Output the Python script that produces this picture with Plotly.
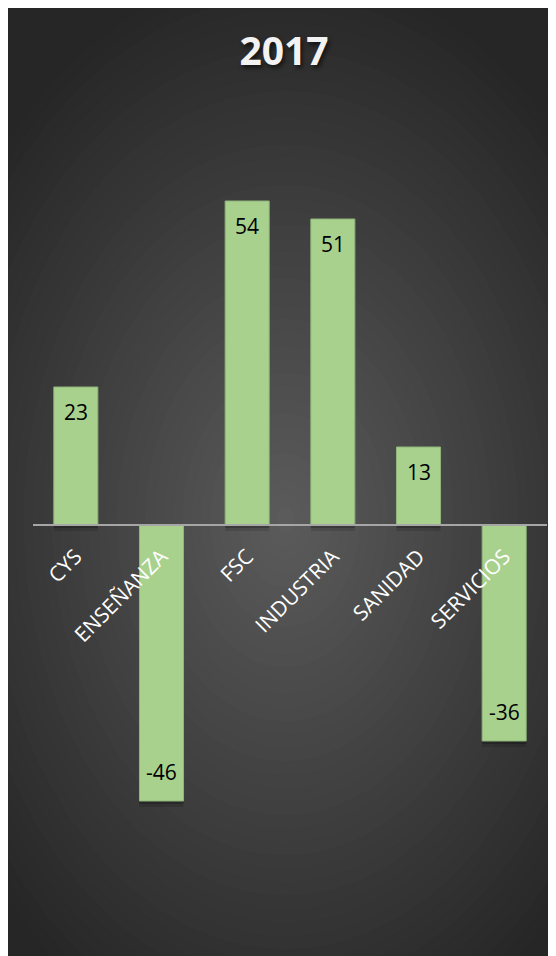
import plotly.graph_objects as go

# ---- data ----
categories = ["CYS", "ENSEÑANZA", "FSC", "INDUSTRIA", "SANIDAD", "SERVICIOS"]
values = [23, -46, 54, 51, 13, -36]
title_text = "2017"

# ---- layout geometry (figure pixels) ----
W, H = 548, 948
L, R, T, B = 25, 9, 97, 71
y_range = [-60, 70]
plot_w = W - L - R
plot_h = H - T - B

def px_x(px):
    return (px - L) / plot_w

def px_y(py):
    return (H - B - py) / plot_h

bar_color = "#a9d18e"

fig = go.Figure()
# soft drop shadow under the bars (two faint layers shifted down)
for shift, alpha in [(1.0, 0.12), (0.5, 0.22)]:
    fig.add_trace(go.Bar(
        x=categories, y=values, base=[-shift] * len(values),
        marker=dict(color=f"rgba(0,0,0,{alpha})", line=dict(width=0)),
        hoverinfo="skip",
    ))
fig.add_trace(go.Bar(
    x=categories, y=values,
    marker=dict(color=bar_color, line=dict(color="#8fb57a", width=1)),
    hoverinfo="skip",
))

# value labels inside bar ends
annotations = []
for c, v in zip(categories, values):
    annotations.append(dict(
        x=c, y=v, xref="x", yref="y", text=str(v), showarrow=False,
        yanchor="middle", yshift=-25 if v > 0 else 29,
        font=dict(family="Open Sans", size=21, color="#000000"),
    ))

# ---- radial gradient background (style only) ----
shapes = []
cx, cy = 277, 512
a, b = 390, 560
c0, c1 = 92, 38
steps = 48
for i in range(steps, 0, -1):
    r = i / steps * 1.15
    g = c0 - (c0 - c1) * min(r, 1.0)
    g = int(round(g))
    shapes.append(dict(type="circle", xref="paper", yref="paper", layer="below",
                       x0=px_x(cx - a * r), x1=px_x(cx + a * r),
                       y0=px_y(cy + b * r), y1=px_y(cy - b * r),
                       fillcolor=f"rgb({g},{g},{g})", line=dict(width=0)))

zero_pos = (0 - y_range[0]) / (y_range[1] - y_range[0])

fig.update_layout(
    width=W, height=H,
    margin=dict(l=L, r=R, t=T, b=B),
    paper_bgcolor=f"rgb({c1},{c1},{c1})",
    plot_bgcolor="rgba(0,0,0,0)",
    showlegend=False,
    barmode="overlay",
    bargap=0.486,
    title=dict(
        text=f"<b>{title_text}</b>", x=276 / W, xanchor="center",
        y=1 - 43 / H, yanchor="middle", xref="container", yref="container",
        font=dict(family="Open Sans", size=39, color="#f2f2f2",
                  shadow="2px 3px 4px rgba(0,0,0,0.6)"),
    ),
    xaxis=dict(
        anchor="free", position=zero_pos,
        showline=True, linecolor="#a6a6a6", linewidth=2,
        showgrid=False, zeroline=False, ticks="",
        tickangle=-45, ticklabelstandoff=10,
        tickfont=dict(family="Open Sans", size=21, color="#ffffff"),
    ),
    yaxis=dict(
        range=y_range, visible=False, showgrid=False, zeroline=False,
    ),
    shapes=shapes,
    annotations=annotations,
)

fig.write_html("out.html")
